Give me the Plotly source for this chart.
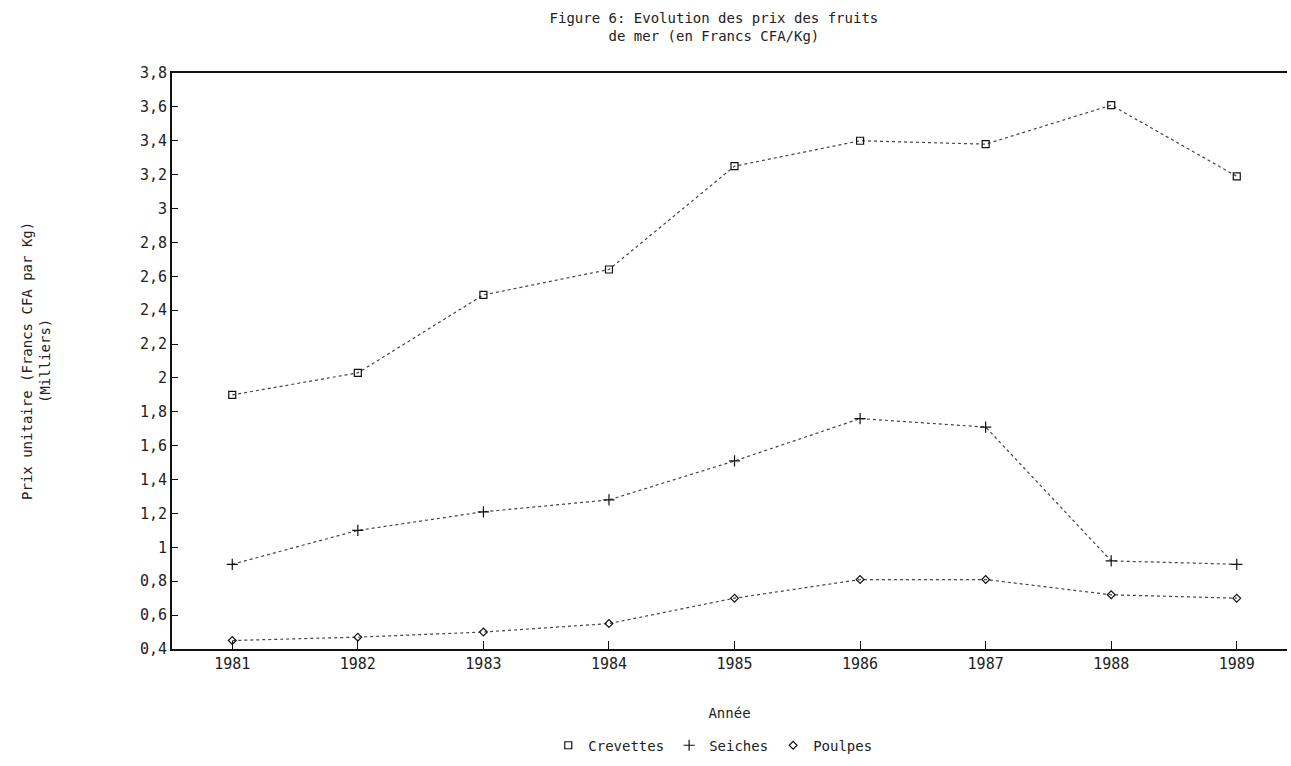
import plotly.graph_objects as go

years = [1981, 1982, 1983, 1984, 1985, 1986, 1987, 1988, 1989]
crevettes = [1.90, 2.03, 2.49, 2.64, 3.25, 3.40, 3.38, 3.61, 3.19]
seiches = [0.90, 1.10, 1.21, 1.28, 1.51, 1.76, 1.71, 0.92, 0.90]
poulpes = [0.45, 0.47, 0.50, 0.55, 0.70, 0.81, 0.81, 0.72, 0.70]

y_ticks = [0.4, 0.6, 0.8, 1.0, 1.2, 1.4, 1.6, 1.8, 2.0, 2.2, 2.4, 2.6, 2.8, 3.0, 3.2, 3.4, 3.6, 3.8]
y_labels = ["0,4", "0,6", "0,8", "1", "1,2", "1,4", "1,6", "1,8", "2", "2,2", "2,4",
            "2,6", "2,8", "3", "3,2", "3,4", "3,6", "3,8"]

names = ["Crevettes", "Seiches", "Poulpes"]
series = [crevettes, seiches, poulpes]
symbols = ["square-open", "cross-thin-open", "diamond-open"]
sizes = [7, 8, 6]

FONT = "DejaVu Sans Mono"
LINE = "#444444"

fig = go.Figure()
for name, vals, sym, sz in zip(names, series, symbols, sizes):
    fig.add_trace(go.Scatter(
        x=years, y=vals, name=name, mode="lines+markers", showlegend=False,
        line=dict(color=LINE, width=1.2, dash="dot"),
        marker=dict(symbol=sym, size=sz, color="#111", line=dict(width=1.2, color="#111"))))
# legend entries: markers only, as in the reference
for name, sym, sz in zip(names, symbols, sizes):
    fig.add_trace(go.Scatter(
        x=[None], y=[None], name=name, mode="markers",
        marker=dict(symbol=sym, size=sz, color="#111", line=dict(width=1.2, color="#111"))))

fig.update_layout(
    width=1291, height=766,
    paper_bgcolor="white", plot_bgcolor="white",
    margin=dict(l=172, r=4, t=73, b=109),
    font=dict(family=FONT, size=14, color="#222"),
    title=dict(text="Figure 6: Evolution des prix des fruits<br>de mer (en Francs CFA/Kg)",
               x=0.553, xanchor="center", y=0.981, yanchor="top",
               pad=dict(t=8),
               font=dict(family=FONT, size=14, color="#222")),
    showlegend=True,
    legend=dict(orientation="h", x=0.485, xanchor="center", y=-0.14, yanchor="top",
                font=dict(family=FONT, size=14, color="#222"),
                itemwidth=30, tracegroupgap=0),
)
fig.update_xaxes(
    range=[1980.52, 1989.4], tickmode="array", tickvals=years,
    ticktext=[str(y) for y in years],
    tickfont=dict(size=15),
    showline=True, linecolor="#111", linewidth=2, mirror=True,
    ticks="inside", ticklen=8, tickcolor="#111",
    showgrid=False, zeroline=False,
    title=dict(text="Année", font=dict(family=FONT, size=14), standoff=36),
)
fig.update_yaxes(
    range=[0.4, 3.8], tickmode="array", tickvals=y_ticks, ticktext=y_labels,
    tickfont=dict(size=15),
    showline=True, linecolor="#111", linewidth=2, mirror=False,
    ticks="inside", ticklen=6, tickcolor="#111",
    showgrid=False, zeroline=False,
)
fig.add_annotation(
    text="Prix unitaire (Francs CFA par Kg)<br>(Milliers)",
    xref="paper", yref="paper", x=-0.122, y=0.5, xanchor="center", yanchor="middle",
    textangle=-90, showarrow=False, font=dict(family=FONT, size=14, color="#222"))

fig.write_html("out.html")
